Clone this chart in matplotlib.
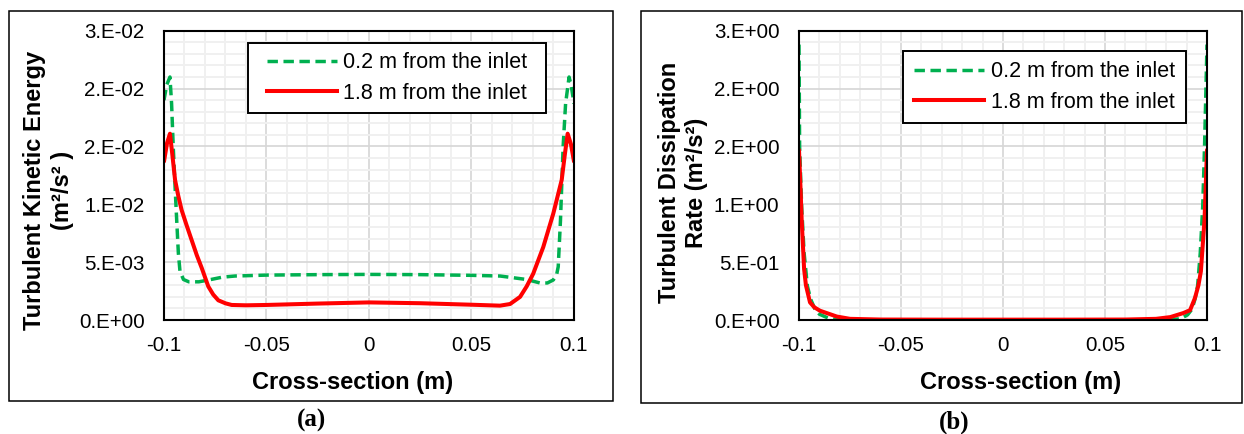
import matplotlib
matplotlib.use("Agg")
import matplotlib.pyplot as plt
from matplotlib.patches import Rectangle
from matplotlib.lines import Line2D
from matplotlib.ticker import MultipleLocator

plt.rcParams["font.family"] = ["Liberation Sans", "DejaVu Sans"]

GREEN = "#00B050"
RED = "#FF0000"
SERIES_NAMES = ["0.2 m from the inlet", "1.8 m from the inlet"]

X_TICKS = [-0.1, -0.05, 0, 0.05, 0.1]
X_TICK_LABELS = ["-0.1", "-0.05", "0", "0.05", "0.1"]

# (a) turbulent kinetic energy (m2/s2)
K_TICKS = [0, 0.005, 0.01, 0.015, 0.02, 0.025]
K_TICK_LABELS = ["0.E+00", "5.E-03", "1.E-02", "2.E-02", "2.E-02", "3.E-02"]
K_X_02 = [-0.1, -0.0987, -0.0971, -0.0963, -0.0955, -0.0946, -0.0938, -0.0930, -0.0922,
          -0.0905, -0.0879, -0.083, -0.0782, -0.0716, -0.0654, -0.05, -0.025, 0.0, 0.025,
          0.05, 0.064, 0.0769, 0.0834, 0.0870, 0.0899, 0.0915, 0.0923, 0.0934, 0.0947,
          0.0959, 0.0976, 0.0986, 0.1]
K_Y_02 = [0.0190, 0.0203, 0.0210, 0.0187, 0.0150, 0.0115, 0.0086, 0.0058, 0.0042,
          0.0035, 0.0033, 0.0033, 0.00346, 0.0037, 0.0038, 0.00388, 0.00392, 0.00394, 0.00392,
          0.00386, 0.0038, 0.0035, 0.0032, 0.0032, 0.00346, 0.0039, 0.0046, 0.0086, 0.0150,
          0.0187, 0.0210, 0.0203, 0.0187]
K_X_18 = [-0.1, -0.0985, -0.0971, -0.096, -0.0946, -0.093, -0.0914, -0.089, -0.0865,
          -0.084, -0.0816, -0.0784, -0.076, -0.0735, -0.070, -0.067, -0.06, -0.05, -0.025,
          0.0, 0.025, 0.05, 0.0639, 0.0688, 0.0737, 0.0769, 0.0801, 0.085, 0.0899, 0.094,
          0.0956, 0.0969, 0.0985, 0.1]
K_Y_18 = [0.0137, 0.0153, 0.0161, 0.0144, 0.0121, 0.0107, 0.0095, 0.0082, 0.0069,
          0.0056, 0.0045, 0.0029, 0.0022, 0.0017, 0.00144, 0.0013, 0.00127, 0.0013, 0.00142,
          0.00152, 0.00145, 0.00132, 0.00124, 0.00138, 0.0020, 0.0029, 0.0040, 0.0063, 0.0092,
          0.0121, 0.0144, 0.0161, 0.0152, 0.0137]

# (b) turbulent dissipation rate
E_TICKS = [0, 0.5, 1.0, 1.5, 2.0, 2.5]
E_TICK_LABELS = ["0.E+00", "5.E-01", "1.E+00", "2.E+00", "2.E+00", "3.E+00"]
E_X_02 = [-0.1, -0.0997, -0.0987, -0.0975, -0.0959, -0.0943, -0.0922, -0.090, -0.0848,
          -0.08, -0.07, -0.05, 0.0, 0.05, 0.07, 0.08, 0.087, 0.0905, 0.0927, 0.0941,
          0.0954, 0.0967, 0.0979, 0.0988, 0.1]
E_Y_02 = [2.38, 1.50, 0.98, 0.58, 0.295, 0.18, 0.095, 0.05, 0.01,
          0.003, 0.001, 0.0005, 0.0005, 0.0005, 0.001, 0.003, 0.01, 0.045, 0.095, 0.18,
          0.295, 0.58, 0.98, 1.50, 2.38]
E_X_18 = [-0.1, -0.0993, -0.0987, -0.0975, -0.0966, -0.0946, -0.0925, -0.0897, -0.0815,
          -0.075, -0.06, -0.03, 0.0, 0.03, 0.06, 0.075, 0.082, 0.0884, 0.0917, 0.0941,
          0.0958, 0.097, 0.0988, 0.1]
E_Y_18 = [1.47, 1.16, 0.87, 0.44, 0.30, 0.152, 0.11, 0.08, 0.03,
          0.01, 0.004, 0.003, 0.003, 0.003, 0.004, 0.01, 0.025, 0.06, 0.085, 0.19,
          0.30, 0.42, 0.87, 1.47]

DASH = (0, (3, 1.6))


def draw_panel(ax, x02, y02, x18, y18, yticks, ylabels, yminor, ylabel, ylabel_xy, xlabel_x,
               legend_box):
    ax.plot(x02, y02, color=GREEN, lw=2.5, ls=DASH, solid_capstyle="round")
    ax.plot(x18, y18, color=RED, lw=2.9, solid_capstyle="round")

    ax.set_xlim(-0.1, 0.1)
    ax.set_ylim(yticks[0], yticks[-1])
    ax.set_xticks(X_TICKS, labels=X_TICK_LABELS)
    ax.set_yticks(yticks, labels=ylabels)
    ax.xaxis.set_minor_locator(MultipleLocator(0.01))
    ax.yaxis.set_minor_locator(MultipleLocator(yminor))
    ax.grid(which="minor", color="#F0F0F0", lw=1.4)
    ax.grid(which="major", color="#D6D6D6", lw=1.2)
    ax.set_axisbelow(True)
    ax.tick_params(which="both", length=0, labelsize=14.8)
    ax.tick_params(axis="x", pad=11.5)
    ax.tick_params(axis="y", pad=14)
    for sp in ax.spines.values():
        sp.set_linewidth(1.5)
        sp.set_color("black")

    ax.set_xlabel("Cross-section (m)", fontsize=17, fontweight="bold", va="top")
    ax.xaxis.set_label_coords(xlabel_x, -0.178)
    ax.set_ylabel(ylabel, fontsize=17, fontweight="bold", va="center", linespacing=1.25)
    ax.yaxis.set_label_coords(*ylabel_xy)

    # 2. legend: white box with black edge, entries centred in it
    bx, by, bw, bh = legend_box
    ax.add_patch(Rectangle((bx, by), bw, bh, transform=ax.transAxes, facecolor="white",
                           edgecolor="black", lw=1.4, zorder=4.5, clip_on=False))
    handles = [Line2D([], [], color=GREEN, lw=2.5, ls=DASH),
               Line2D([], [], color=RED, lw=2.9)]
    ax.legend(handles, SERIES_NAMES, loc="center", bbox_to_anchor=(bx + bw / 2, by + bh / 2),
              frameon=False, fontsize=15.5, handlelength=3.25, handletextpad=0.3,
              labelspacing=0.45, borderpad=0, borderaxespad=0)


fig = plt.figure(figsize=(12.44, 4.34), dpi=100)
W, H = 1244, 434

# 1. outer frames around the two sub-figures
fig.add_artist(Rectangle((9 / W, 33.5 / H), 604 / W, 390 / H, transform=fig.transFigure,
                         fill=False, lw=1.1, ec="black"))
fig.add_artist(Rectangle((641 / W, 31.5 / H), 601 / W, 392 / H, transform=fig.transFigure,
                         fill=False, lw=1.1, ec="black"))

ax1 = fig.add_axes([164 / W, 114 / H, 410 / W, 289.3 / H])
ax2 = fig.add_axes([799 / W, 114 / H, 408 / W, 289.3 / H])

draw_panel(ax1, K_X_02, K_Y_02, K_X_18, K_Y_18, K_TICKS, K_TICK_LABELS, 0.001,
           "Turbulent Kinetic Energy\n(m²/s² )", (-0.282, 0.449), 0.461,
           (0.205, 0.7155, 0.727, 0.242))
draw_panel(ax2, E_X_02, E_Y_02, E_X_18, E_Y_18, E_TICKS, E_TICK_LABELS, 0.1,
           "Turbulent Dissipation\nRate (m²/s²)", (-0.284, 0.474), 0.542,
           (0.255, 0.681, 0.694, 0.249))

fig.text(312 / W, 1 - 420 / H, "(a)", ha="center", va="center", fontsize=18,
         fontweight="bold", family="Liberation Serif")
fig.text(954 / W, 1 - 422 / H, "(b)", ha="center", va="center", fontsize=18,
         fontweight="bold", family="Liberation Serif")

fig.savefig("out.png", dpi=100)
